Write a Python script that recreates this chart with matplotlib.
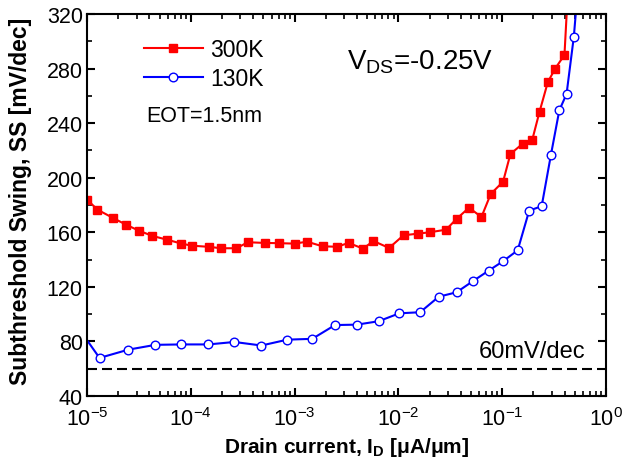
import numpy as np
import matplotlib
matplotlib.use("Agg")
import matplotlib.pyplot as plt
from matplotlib.ticker import LogLocator, MultipleLocator, NullFormatter, FixedLocator, FixedFormatter

plt.rcParams["font.family"] = ["Liberation Sans", "DejaVu Sans"]
plt.rcParams["mathtext.fontset"] = "custom"
plt.rcParams["mathtext.rm"] = "Liberation Sans"
plt.rcParams["mathtext.it"] = "Liberation Sans:italic"
plt.rcParams["mathtext.bf"] = "Liberation Sans:bold"

# Drain current [uA/um] and subthreshold swing [mV/dec], 300 K
id_300k = [1.00e-5, 1.26e-5, 1.78e-5, 2.40e-5, 3.16e-5, 4.27e-5, 5.89e-5, 8.13e-5,
           1.02e-4, 1.51e-4, 1.95e-4, 2.75e-4, 3.55e-4, 5.13e-4, 7.08e-4, 1.00e-3,
           1.32e-3, 1.86e-3, 2.57e-3, 3.31e-3, 4.57e-3, 5.75e-3, 8.13e-3, 1.12e-2,
           1.55e-2, 2.00e-2, 2.88e-2, 3.63e-2, 4.79e-2, 6.31e-2, 7.76e-2, 1.02e-1,
           1.20e-1, 1.58e-1, 1.95e-1, 2.29e-1, 2.75e-1, 3.24e-1, 3.98e-1, 4.68e-1]
ss_300k = [184.0, 176.6, 170.5, 165.4, 161.2, 157.3, 154.6, 151.7,
           150.2, 149.3, 148.3, 148.3, 152.7, 152.2, 152.0, 151.7,
           153.1, 149.7, 149.4, 152.2, 148.0, 153.6, 148.5, 157.8,
           159.0, 160.0, 161.9, 169.8, 178.0, 171.2, 188.1, 197.1,
           217.4, 225.0, 227.9, 248.4, 270.0, 280.0, 290.0, 390.0]

# Drain current [uA/um] and subthreshold swing [mV/dec], 130 K
id_130k = [7.41e-6, 1.32e-5, 2.51e-5, 4.57e-5, 8.13e-5, 1.48e-4, 2.63e-4, 4.79e-4,
           8.51e-4, 1.48e-3, 2.45e-3, 3.98e-3, 6.46e-3, 1.02e-2, 1.62e-2, 2.45e-2,
           3.63e-2, 5.25e-2, 7.41e-2, 1.02e-1, 1.41e-1, 1.82e-1, 2.40e-1, 2.95e-1,
           3.55e-1, 4.17e-1, 4.90e-1, 5.62e-1]
ss_130k = [95.0, 67.9, 74.0, 77.5, 77.8, 77.8, 79.6, 77.0,
           81.3, 81.9, 92.0, 92.3, 94.8, 100.6, 101.4, 112.8,
           116.0, 124.3, 131.9, 138.8, 146.8, 175.9, 179.1, 216.9,
           249.4, 261.4, 303.4, 358.0]

series_labels = ["300K", "130K"]
ideal_ss = 60  # room-temperature thermionic limit

x_ticks = [1e-5, 1e-4, 1e-3, 1e-2, 1e-1, 1e0]
x_tick_labels = [r"10$^\mathdefault{-5}$", r"10$^\mathdefault{-4}$", r"10$^\mathdefault{-3}$",
                 r"10$^\mathdefault{-2}$", r"10$^\mathdefault{-1}$", r"10$^\mathdefault{0}$"]
y_ticks = [40, 80, 120, 160, 200, 240, 280, 320]

fig = plt.figure(figsize=(6.25, 4.64), dpi=100)
ax = fig.add_axes([0.1392, 0.1444, 0.8304, 0.8233])

l300, = ax.plot(id_300k, ss_300k, "-s", color="#ff0000", lw=1.5, ms=6.2,
                mfc="#ff0000", mec="#ff0000", label=series_labels[0])
l130, = ax.plot(id_130k, ss_130k, "-o", color="#0000ff", lw=1.5, ms=6.2,
                mfc="white", mec="#0000ff", mew=1.0, label=series_labels[1])
ax.axhline(ideal_ss, color="black", lw=1.5, dashes=(4.8, 2.4))

ax.set_xscale("log")
ax.set_xlim(x_ticks[0], x_ticks[-1])
ax.set_ylim(y_ticks[0], y_ticks[-1])
ax.xaxis.set_major_locator(FixedLocator(x_ticks))
ax.xaxis.set_major_formatter(FixedFormatter(x_tick_labels))
ax.xaxis.set_minor_locator(LogLocator(base=10, subs=np.arange(2, 10), numticks=50))
ax.xaxis.set_minor_formatter(NullFormatter())
ax.set_yticks(y_ticks)
ax.yaxis.set_minor_locator(MultipleLocator(20))

for sp in ax.spines.values():
    sp.set_linewidth(1.5)
ax.tick_params(which="both", direction="in", top=True, right=True)
ax.tick_params(which="major", length=6, width=1.5, labelsize=15.5)
ax.tick_params(which="minor", length=3.5, width=1.2)
ax.tick_params(axis="x", which="major", pad=8)
ax.tick_params(axis="y", which="major", pad=3)

ax.set_xlabel(r"Drain current, I$_\mathdefault{D}$ [μA/μm]", fontsize=15, fontweight="bold")
ax.set_ylabel("Subthreshold Swing, SS [mV/dec]", fontsize=16.5, fontweight="bold")
ax.xaxis.set_label_coords(0.5, -0.102)
ax.yaxis.set_label_coords(-0.106, 0.512)

ax.legend(handles=[l300, l130], loc="upper left", bbox_to_anchor=(0.110, 0.937),
          frameon=False, fontsize=16.5, handlelength=2.55, handletextpad=0.32,
          labelspacing=0.25, borderaxespad=0, borderpad=0, numpoints=1)

ax.text(0.501, 0.856, r"V$_\mathdefault{DS}$=-0.25V", transform=ax.transAxes,
        fontsize=20, ha="left", va="baseline")
ax.text(0.115, 0.721, "EOT=1.5nm", transform=ax.transAxes,
        fontsize=15.5, ha="left", va="baseline")
ax.text(0.754, 0.101, "60mV/dec", transform=ax.transAxes,
        fontsize=17, ha="left", va="baseline")

fig.savefig("out.png", dpi=100)
